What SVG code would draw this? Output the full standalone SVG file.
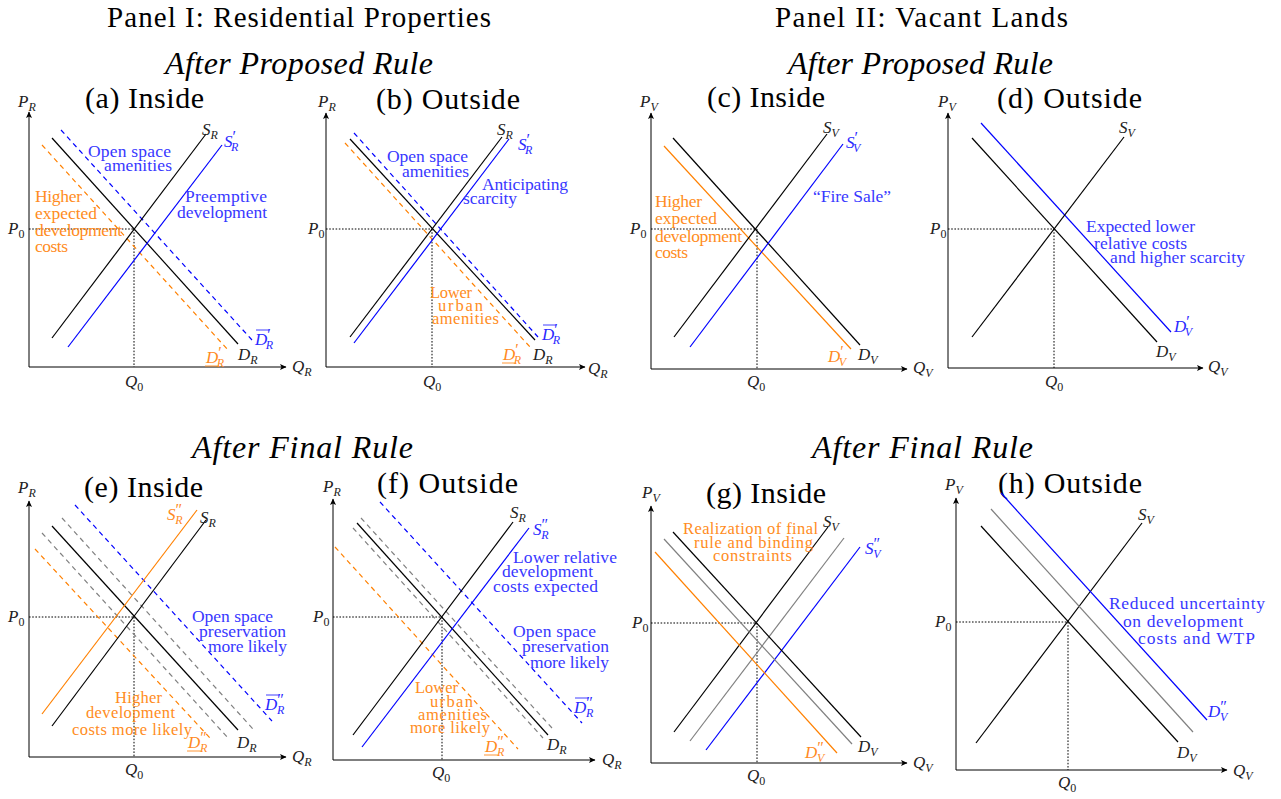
<svg xmlns="http://www.w3.org/2000/svg" width="1281" height="799" viewBox="0 0 1281 799">
<defs>
<marker id="ar" markerUnits="userSpaceOnUse" markerWidth="8" markerHeight="8" refX="6" refY="3" orient="auto"><path d="M0,0 L6.5,3 L0,6 L1.5,3 z" fill="#000"/></marker>
<style>
text{font-family:"Liberation Serif","DejaVu Serif",serif;}
.h{font-size:30px;fill:#000}
.hp{font-size:29px;fill:#000}
.hi{font-size:32px;font-style:italic;fill:#000}
.m{font-size:17px;font-style:italic;fill:#222}
.sb{font-size:12px}
.up{font-style:normal}
.sp{font-size:16px;font-style:normal}
.lb{font-size:17.5px;fill:#3838ff}
.lo{font-size:17.5px;fill:#ff8c22}
.sm{font-size:16.5px}
.mb{fill:#2a2aff}
.mo{fill:#ff8a1f}
.ax{stroke:#000;stroke-width:1;fill:none;marker-end:url(#ar)}
.dt{stroke:#000;stroke-width:1;stroke-dasharray:1.6 1.6;fill:none}
.k{stroke:#000;stroke-width:1.2;fill:none}
.b{stroke:#0000ff;stroke-width:1.2;fill:none}
.o{stroke:#ff8000;stroke-width:1.2;fill:none}
.g{stroke:#808080;stroke-width:1.2;fill:none}
.ds{stroke-dasharray:5 4}
.ulb{stroke:#2a2aff;stroke-width:0.9}
.ulo{stroke:#ff8a1f;stroke-width:0.9}
</style>
</defs>
<rect width="1281" height="799" fill="#fff"/>

<g id="headers">
<text class="hp" x="107" y="27" textLength="384">Panel I: Residential Properties</text>
<text class="hp" x="775" y="27" textLength="293">Panel II: Vacant Lands</text>
<text class="hi" x="165" y="74" textLength="268">After Proposed Rule</text>
<text class="hi" x="788" y="74" textLength="265">After Proposed Rule</text>
<text class="hi" x="192" y="458" textLength="221">After Final Rule</text>
<text class="hi" x="812" y="458" textLength="221">After Final Rule</text>
</g>

<!-- Panel a -->
<g id="panel-a">
<text class="h" x="85" y="108" textLength="119">(a) Inside</text>
<g id="conn-a">
<line class="ax" x1="29" y1="367" x2="29" y2="112"/>
<line class="ax" x1="29" y1="367" x2="286" y2="367"/>
<line class="dt" x1="29" y1="229" x2="134" y2="229"/>
<line class="dt" x1="134" y1="229" x2="134" y2="367"/>
<line class="o ds" x1="42" y1="145" x2="228" y2="350"/>
<line class="b ds" x1="61" y1="130" x2="252" y2="340"/>
<line class="k" x1="52" y1="138" x2="238" y2="344"/>
<line class="k" x1="52" y1="338" x2="206" y2="134"/>
<line class="b" x1="68" y1="347" x2="222" y2="145"/>
</g>
<text class="m" x="18" y="107">P<tspan class="sb" dy="4">R</tspan></text>
<text class="m" x="292" y="372">Q<tspan class="sb" dy="4">R</tspan></text>
<text class="m" x="8" y="234">P<tspan class="sb up" dy="4">0</tspan></text>
<text class="m" x="125" y="387">Q<tspan class="sb up" dy="4">0</tspan></text>
<text class="m" x="202" y="135">S<tspan class="sb" dy="4">R</tspan></text>
<text class="m mb" x="224" y="147">S<tspan class="sp" dy="-5">′</tspan><tspan class="sb" dx="-5" dy="9">R</tspan></text>
<text class="m" x="238" y="360">D<tspan class="sb" dy="4">R</tspan></text>
<text class="m mb" x="255" y="345">D<tspan class="sp" dy="-5">′</tspan><tspan class="sb" dx="-5" dy="9">R</tspan></text>
<line class="ulb" x1="256" y1="330" x2="269" y2="330"/>
<text class="m mo" x="206" y="363">D<tspan class="sp" dy="-5">′</tspan><tspan class="sb" dx="-5" dy="9">R</tspan></text>
<line class="ulo" x1="205" y1="366" x2="219" y2="366"/>
<text class="lb" x="88" y="157" textLength="83">Open space</text>
<text class="lb" x="104" y="171" textLength="68">amenities</text>
<text class="lo" x="35" y="202" textLength="47">Higher</text>
<text class="lo" x="35" y="219" textLength="62">expected</text>
<text class="lo" x="35" y="236" textLength="87">development</text>
<text class="lo" x="35" y="252" textLength="33">costs</text>
<text class="lb" x="185" y="202" textLength="82">Preemptive</text>
<text class="lb" x="177" y="218" textLength="90">development</text>
</g>

<!-- Panel b -->
<g id="panel-b">
<text class="h" x="376" y="109" textLength="144">(b) Outside</text>
<g id="conn-b">
<line class="ax" x1="326" y1="367" x2="326" y2="113"/>
<line class="ax" x1="326" y1="367" x2="585" y2="367"/>
<line class="dt" x1="326" y1="229" x2="432" y2="229"/>
<line class="dt" x1="432" y1="229" x2="432" y2="367"/>
<line class="o ds" x1="345" y1="143" x2="530" y2="347"/>
<line class="b ds" x1="354" y1="133" x2="538" y2="337"/>
<line class="k" x1="350" y1="139" x2="535" y2="340"/>
<line class="k" x1="350" y1="337" x2="502" y2="137"/>
<line class="b" x1="354" y1="343" x2="509" y2="139"/>
</g>
<text class="m" x="318" y="107">P<tspan class="sb" dy="4">R</tspan></text>
<text class="m" x="588" y="374">Q<tspan class="sb" dy="4">R</tspan></text>
<text class="m" x="308" y="234">P<tspan class="sb up" dy="4">0</tspan></text>
<text class="m" x="423" y="387">Q<tspan class="sb up" dy="4">0</tspan></text>
<text class="m" x="497" y="135">S<tspan class="sb" dy="4">R</tspan></text>
<text class="m mb" x="518" y="150">S<tspan class="sp" dy="-5">′</tspan><tspan class="sb" dx="-5" dy="9">R</tspan></text>
<text class="m" x="533" y="360">D<tspan class="sb" dy="4">R</tspan></text>
<text class="m mb" x="542" y="340">D<tspan class="sp" dy="-5">′</tspan><tspan class="sb" dx="-5" dy="9">R</tspan></text>
<line class="ulb" x1="543" y1="325" x2="556" y2="325"/>
<text class="m mo" x="503" y="360">D<tspan class="sp" dy="-5">′</tspan><tspan class="sb" dx="-5" dy="9">R</tspan></text>
<line class="ulo" x1="502" y1="363" x2="516" y2="363"/>
<text class="lb" x="387" y="162" textLength="81">Open space</text>
<text class="lb" x="402" y="177" textLength="67">amenities</text>
<text class="lb" x="482" y="190" textLength="86">Anticipating</text>
<text class="lb" x="463" y="204" textLength="54">scarcity</text>
<text class="lo sm" x="430" y="298" textLength="42">Lower</text>
<text class="lo sm" x="438" y="311" textLength="45">urban</text>
<text class="lo sm" x="432" y="324" textLength="67">amenities</text>
</g>

<!-- Panel c -->
<g id="panel-c">
<text class="h" x="707" y="107" textLength="118">(c) Inside</text>
<g id="conn-c">
<line class="ax" x1="651" y1="369" x2="651" y2="113"/>
<line class="ax" x1="651" y1="369" x2="907" y2="369"/>
<line class="dt" x1="651" y1="229" x2="757" y2="229"/>
<line class="dt" x1="757" y1="229" x2="757" y2="369"/>
<line class="o" x1="664" y1="146" x2="851" y2="349"/>
<line class="k" x1="673" y1="138" x2="860" y2="345"/>
<line class="k" x1="674" y1="337" x2="827" y2="134"/>
<line class="b" x1="690" y1="347" x2="843" y2="144"/>
</g>
<text class="m" x="640" y="107">P<tspan class="sb" dy="4">V</tspan></text>
<text class="m" x="913" y="373">Q<tspan class="sb" dy="4">V</tspan></text>
<text class="m" x="630" y="234">P<tspan class="sb up" dy="4">0</tspan></text>
<text class="m" x="747" y="387">Q<tspan class="sb up" dy="4">0</tspan></text>
<text class="m" x="823" y="133">S<tspan class="sb" dy="4">V</tspan></text>
<text class="m mb" x="846" y="148">S<tspan class="sp" dy="-5">′</tspan><tspan class="sb" dx="-5" dy="9">V</tspan></text>
<text class="m" x="858" y="360">D<tspan class="sb" dy="4">V</tspan></text>
<text class="m mo" x="828" y="362">D<tspan class="sp" dy="-5">′</tspan><tspan class="sb" dx="-5" dy="9">V</tspan></text>
<text class="lo" x="655" y="207" textLength="47">Higher</text>
<text class="lo" x="655" y="224" textLength="62">expected</text>
<text class="lo" x="655" y="242" textLength="87">development</text>
<text class="lo" x="655" y="258" textLength="33">costs</text>
<text class="lb" x="813" y="202" textLength="78">“Fire Sale”</text>
</g>

<!-- Panel d -->
<g id="panel-d">
<text class="h" x="997" y="108" textLength="145">(d) Outside</text>
<g id="conn-d">
<line class="ax" x1="948" y1="368" x2="948" y2="113"/>
<line class="ax" x1="948" y1="368" x2="1203" y2="368"/>
<line class="dt" x1="948" y1="229" x2="1054" y2="229"/>
<line class="dt" x1="1054" y1="229" x2="1054" y2="368"/>
<line class="k" x1="972" y1="138" x2="1157" y2="342"/>
<line class="b" x1="981" y1="123" x2="1171" y2="332"/>
<line class="k" x1="972" y1="337" x2="1124" y2="137"/>
</g>
<text class="m" x="938" y="107">P<tspan class="sb" dy="4">V</tspan></text>
<text class="m" x="1208" y="372">Q<tspan class="sb" dy="4">V</tspan></text>
<text class="m" x="930" y="234">P<tspan class="sb up" dy="4">0</tspan></text>
<text class="m" x="1045" y="387">Q<tspan class="sb up" dy="4">0</tspan></text>
<text class="m" x="1119" y="133">S<tspan class="sb" dy="4">V</tspan></text>
<text class="m" x="1156" y="357">D<tspan class="sb" dy="4">V</tspan></text>
<text class="m mb" x="1174" y="332">D<tspan class="sp" dy="-5">′</tspan><tspan class="sb" dx="-5" dy="9">V</tspan></text>
<text class="lb" x="1086" y="232" textLength="109">Expected lower</text>
<text class="lb" x="1094" y="249" textLength="93">relative costs</text>
<text class="lb" x="1110" y="263" textLength="135">and higher scarcity</text>
</g>

<!-- Panel e -->
<g id="panel-e">
<text class="h" x="84" y="497" textLength="119">(e) Inside</text>
<g id="conn-e">
<line class="ax" x1="29" y1="757" x2="29" y2="501"/>
<line class="ax" x1="29" y1="757" x2="286" y2="757"/>
<line class="dt" x1="29" y1="617" x2="134" y2="617"/>
<line class="dt" x1="134" y1="617" x2="134" y2="757"/>
<line class="g ds" x1="62" y1="518" x2="253" y2="729"/>
<line class="g ds" x1="42" y1="533" x2="228" y2="738"/>
<line class="o ds" x1="35" y1="549" x2="210" y2="738"/>
<line class="b ds" x1="75" y1="505" x2="272" y2="721"/>
<line class="k" x1="52" y1="526" x2="238" y2="730"/>
<line class="k" x1="52" y1="726" x2="206" y2="520"/>
<line class="o" x1="42" y1="714" x2="197" y2="510"/>
</g>
<text class="m" x="18" y="493">P<tspan class="sb" dy="4">R</tspan></text>
<text class="m" x="292" y="762">Q<tspan class="sb" dy="4">R</tspan></text>
<text class="m" x="8" y="622">P<tspan class="sb up" dy="4">0</tspan></text>
<text class="m" x="125" y="775">Q<tspan class="sb up" dy="4">0</tspan></text>
<text class="m" x="200" y="523">S<tspan class="sb" dy="4">R</tspan></text>
<text class="m mo" x="167" y="520">S<tspan class="sp" dy="-5">″</tspan><tspan class="sb" dx="-7" dy="9">R</tspan></text>
<text class="m" x="237" y="748">D<tspan class="sb" dy="4">R</tspan></text>
<text class="m mb" x="265" y="710">D<tspan class="sp" dy="-5">″</tspan><tspan class="sb" dx="-7" dy="9">R</tspan></text>
<line class="ulb" x1="266" y1="695" x2="279" y2="695"/>
<text class="m mo" x="188" y="748">D<tspan class="sp" dy="-5">″</tspan><tspan class="sb" dx="-7" dy="9">R</tspan></text>
<line class="ulo" x1="187" y1="751" x2="201" y2="751"/>
<text class="lb" x="192" y="622" textLength="81">Open space</text>
<text class="lb" x="199" y="637" textLength="87">preservation</text>
<text class="lb" x="208" y="652" textLength="79">more likely</text>
<text class="lo sm" x="115" y="703" textLength="47">Higher</text>
<text class="lo sm" x="86" y="718" textLength="89">development</text>
<text class="lo sm" x="72" y="735" textLength="120">costs more likely</text>
</g>

<!-- Panel f -->
<g id="panel-f">
<text class="h" x="377" y="493" textLength="141">(f) Outside</text>
<g id="conn-f">
<line class="ax" x1="333" y1="760" x2="333" y2="499"/>
<line class="ax" x1="333" y1="760" x2="595" y2="760"/>
<line class="dt" x1="333" y1="617" x2="442" y2="617"/>
<line class="dt" x1="442" y1="617" x2="442" y2="760"/>
<line class="g ds" x1="361" y1="518" x2="552" y2="728"/>
<line class="g ds" x1="353" y1="528" x2="543" y2="738"/>
<line class="o ds" x1="335" y1="547" x2="518" y2="749"/>
<line class="b ds" x1="380" y1="502" x2="582" y2="723"/>
<line class="k" x1="357" y1="523" x2="548" y2="735"/>
<line class="k" x1="353" y1="735" x2="513" y2="522"/>
<line class="b" x1="362" y1="747" x2="529" y2="528"/>
</g>
<text class="m" x="323" y="492">P<tspan class="sb" dy="4">R</tspan></text>
<text class="m" x="602" y="765">Q<tspan class="sb" dy="4">R</tspan></text>
<text class="m" x="313" y="622">P<tspan class="sb up" dy="4">0</tspan></text>
<text class="m" x="432" y="778">Q<tspan class="sb up" dy="4">0</tspan></text>
<text class="m" x="510" y="518">S<tspan class="sb" dy="4">R</tspan></text>
<text class="m mb" x="533" y="535">S<tspan class="sp" dy="-5">″</tspan><tspan class="sb" dx="-7" dy="9">R</tspan></text>
<text class="m" x="547" y="750">D<tspan class="sb" dy="4">R</tspan></text>
<text class="m mb" x="574" y="713">D<tspan class="sp" dy="-5">″</tspan><tspan class="sb" dx="-7" dy="9">R</tspan></text>
<line class="ulb" x1="575" y1="698" x2="588" y2="698"/>
<text class="m mo" x="485" y="752">D<tspan class="sp" dy="-5">″</tspan><tspan class="sb" dx="-7" dy="9">R</tspan></text>
<line class="ulo" x1="484" y1="755" x2="498" y2="755"/>
<text class="lb" x="513" y="563" textLength="104">Lower relative</text>
<text class="lb" x="502" y="577" textLength="91">development</text>
<text class="lb" x="493" y="592" textLength="105">costs expected</text>
<text class="lb" x="513" y="637" textLength="83">Open space</text>
<text class="lb" x="522" y="652" textLength="87">preservation</text>
<text class="lb" x="530" y="668" textLength="79">more likely</text>
<text class="lo sm" x="415" y="693" textLength="43">Lower</text>
<text class="lo sm" x="430" y="707" textLength="43">urban</text>
<text class="lo sm" x="418" y="720" textLength="69">amenities</text>
<text class="lo sm" x="410" y="733" textLength="80">more likely</text>
</g>

<!-- Panel g -->
<g id="panel-g">
<text class="h" x="706" y="503" textLength="120">(g) Inside</text>
<g id="conn-g">
<line class="ax" x1="651" y1="763" x2="651" y2="506"/>
<line class="ax" x1="651" y1="763" x2="907" y2="763"/>
<line class="dt" x1="651" y1="623" x2="757" y2="623"/>
<line class="dt" x1="757" y1="623" x2="757" y2="763"/>
<line class="k" x1="674" y1="732" x2="828" y2="527"/>
<line class="g" x1="690" y1="741" x2="844" y2="538"/>
<line class="b" x1="706" y1="750" x2="860" y2="547"/>
<line class="k" x1="673" y1="532" x2="861" y2="737"/>
<line class="g" x1="664" y1="539" x2="852" y2="744"/>
<line class="o" x1="655" y1="552" x2="837" y2="753"/>
</g>
<text class="m" x="642" y="498">P<tspan class="sb" dy="4">V</tspan></text>
<text class="m" x="913" y="768">Q<tspan class="sb" dy="4">V</tspan></text>
<text class="m" x="632" y="628">P<tspan class="sb up" dy="4">0</tspan></text>
<text class="m" x="747" y="781">Q<tspan class="sb up" dy="4">0</tspan></text>
<text class="m" x="823" y="527">S<tspan class="sb" dy="4">V</tspan></text>
<text class="m mb" x="865" y="554">S<tspan class="sp" dy="-5">″</tspan><tspan class="sb" dx="-7" dy="9">V</tspan></text>
<text class="m" x="858" y="752">D<tspan class="sb" dy="4">V</tspan></text>
<text class="m mo" x="805" y="758">D<tspan class="sp" dy="-5">″</tspan><tspan class="sb" dx="-7" dy="9">V</tspan></text>
<text class="lo sm" x="683" y="534" textLength="135">Realization of final</text>
<text class="lo sm" x="694" y="548" textLength="119">rule and binding</text>
<text class="lo sm" x="713" y="561" textLength="79">constraints</text>
</g>

<!-- Panel h -->
<g id="panel-h">
<text class="h" x="998" y="493" textLength="144">(h) Outside</text>
<g id="conn-h">
<line class="ax" x1="956" y1="770" x2="956" y2="498"/>
<line class="ax" x1="956" y1="770" x2="1227" y2="770"/>
<line class="dt" x1="956" y1="622" x2="1068" y2="622"/>
<line class="dt" x1="1068" y1="622" x2="1068" y2="770"/>
<line class="k" x1="976" y1="743" x2="1142" y2="523"/>
<line class="k" x1="981" y1="526" x2="1178" y2="742"/>
<line class="g" x1="991" y1="509" x2="1193" y2="732"/>
<line class="b" x1="1001" y1="493" x2="1207" y2="720"/>
</g>
<text class="m" x="945" y="490">P<tspan class="sb" dy="4">V</tspan></text>
<text class="m" x="1233" y="776">Q<tspan class="sb" dy="4">V</tspan></text>
<text class="m" x="935" y="627">P<tspan class="sb up" dy="4">0</tspan></text>
<text class="m" x="1058" y="788">Q<tspan class="sb up" dy="4">0</tspan></text>
<text class="m" x="1138" y="520">S<tspan class="sb" dy="4">V</tspan></text>
<text class="m" x="1177" y="758">D<tspan class="sb" dy="4">V</tspan></text>
<text class="m mb" x="1208" y="717">D<tspan class="sp" dy="-5">″</tspan><tspan class="sb" dx="-7" dy="9">V</tspan></text>
<text class="lb" x="1109" y="609" textLength="156">Reduced uncertainty</text>
<text class="lb" x="1123" y="627" textLength="120">on development</text>
<text class="lb" x="1138" y="644" textLength="117">costs and WTP</text>
</g>
</svg>
